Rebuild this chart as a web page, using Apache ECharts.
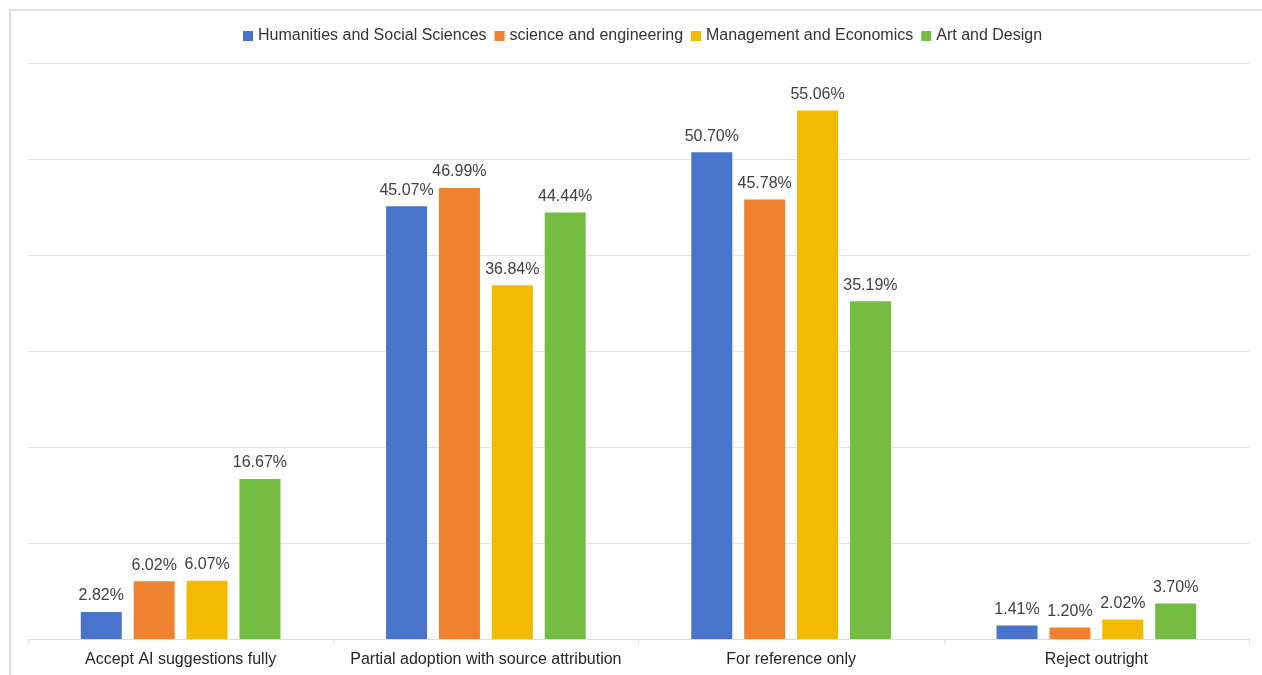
<!DOCTYPE html>
<html>
<head>
<meta charset="utf-8">
<title>AI suggestion adoption by discipline</title>
<script src="https://cdn.jsdelivr.net/npm/echarts@6/dist/echarts.min.js"></script>
<style>
  html, body { margin: 0; padding: 0; background: #ffffff; overflow: hidden; }
  #frame {
    position: absolute; left: 9px; top: 9px; width: 1400px; height: 800px;
    border: 2px solid #dedede; box-sizing: border-box;
  }
  #chart { position: absolute; left: 0; top: 0; width: 1262px; height: 675px; }
</style>
</head>
<body>
<div id="frame"></div>
<div id="chart"></div>
<script>
// Response categories on the x axis
const categories = [
  'Accept AI suggestions fully',
  'Partial adoption with source attribution',
  'For reference only',
  'Reject outright'
];

// Share of respondents (%) per discipline
const humanities = [2.82, 45.07, 50.70, 1.41];
const scienceEng = [6.02, 46.99, 45.78, 1.20];
const management = [6.07, 36.84, 55.06, 2.02];
const artDesign  = [16.67, 44.44, 35.19, 3.70];

const seriesNames = [
  'Humanities and Social Sciences',
  'science and engineering',
  'Management and Economics',
  'Art and Design'
];
const seriesData = [humanities, scienceEng, management, artDesign];
const colors = ['#4874CB', '#EE822F', '#F2BA02', '#75BD42'];

const FONT = '"Liberation Sans", Arial, Helvetica, sans-serif';

const chart = echarts.init(document.getElementById('chart'), null, { renderer: 'canvas' });

chart.setOption({
  animation: false,
  color: colors,
  textStyle: { fontFamily: FONT },
  legend: {
    top: 23,
    left: 238,
    itemWidth: 10,
    itemHeight: 10,
    itemGap: 8,
    icon: 'rect',
    textStyle: { fontFamily: FONT, fontSize: 16, color: '#333333' },
    data: seriesNames
  },
  grid: { left: 28, right: 13, top: 63, bottom: 36, containLabel: false },
  xAxis: {
    type: 'category',
    data: categories,
    axisLine: { lineStyle: { color: '#d6dde8', width: 1 } },
    axisTick: { show: true, length: 5, lineStyle: { color: '#d6dde8' } },
    axisLabel: { interval: 0, fontFamily: FONT, fontSize: 16, color: '#262626', margin: 13 }
  },
  yAxis: {
    type: 'value',
    min: 0,
    max: 60,
    interval: 10,
    axisLabel: { show: false },
    axisLine: { show: false },
    axisTick: { show: false },
    splitLine: { lineStyle: { color: '#e3e3e3', width: 1 } }
  },
  series: seriesNames.map((name, i) => ({
    name: name,
    type: 'bar',
    data: seriesData[i],
    barWidth: 41,
    barGap: '29%',
    itemStyle: { color: colors[i] },
    label: {
      show: true,
      position: 'top',
      distance: 8,
      fontFamily: FONT,
      fontSize: 16,
      color: '#404040',
      formatter: p => p.value.toFixed(2) + '%'
    }
  }))
});
</script>
</body>
</html>
